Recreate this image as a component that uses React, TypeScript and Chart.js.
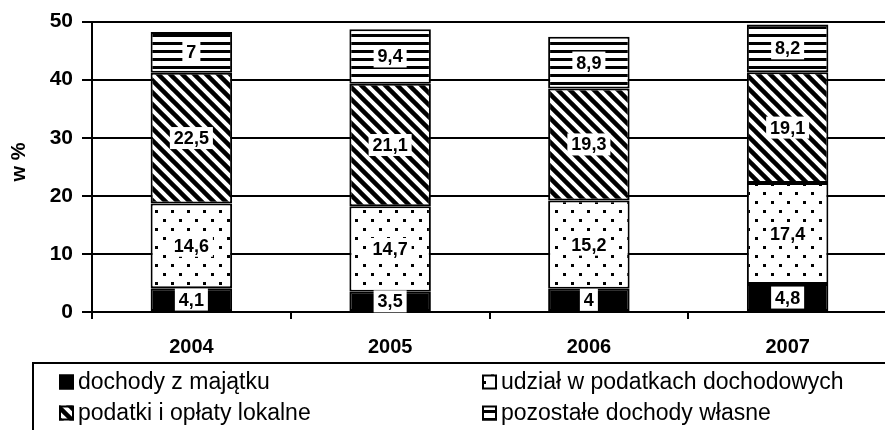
import React, { useEffect, useRef } from "react";
import { Chart, registerables } from "chart.js";

Chart.register(...registerables);

const years = ["2004", "2005", "2006", "2007"];
const dochodyZMajatku = [4.1, 3.5, 4.0, 4.8];
const udzialWPodatkach = [14.6, 14.7, 15.2, 17.4];
const podatkiIOplaty = [22.5, 21.1, 19.3, 19.1];
const pozostaleDochody = [7, 9.4, 8.9, 8.2];
const seriesNames = [
  "dochody z majątku",
  "udział w podatkach dochodowych",
  "podatki i opłaty lokalne",
  "pozostałe dochody własne",
];
const yTicks = [0, 10, 20, 30, 40, 50];
const yTitle = "w %";

const FONT = "'Liberation Sans', Arial, sans-serif";

function makePattern(
  w: number,
  h: number,
  draw: (c: CanvasRenderingContext2D) => void
): CanvasPattern | string {
  const c = document.createElement("canvas");
  c.width = w;
  c.height = h;
  const x = c.getContext("2d")!;
  x.fillStyle = "#fff";
  x.fillRect(0, 0, w, h);
  x.fillStyle = "#000";
  x.strokeStyle = "#000";
  draw(x);
  const p = x.createPattern(c, "repeat");
  return p || "#fff";
}

const fmt = (v: number) => String(v).replace(".", ",");

export default function App() {
  const ref = useRef<HTMLCanvasElement>(null);

  useEffect(() => {
    const canvas = ref.current!;
    const dots = makePattern(16, 18, (c) => {
      c.fillRect(3, 3, 3, 3);
      c.fillRect(11, 12, 3, 3);
    });
    const diag = makePattern(12, 12, (c) => {
      c.lineWidth = 4.5;
      c.lineCap = "square";
      for (const o of [-12, 0, 12]) {
        c.beginPath();
        c.moveTo(o - 2, -2);
        c.lineTo(o + 14, 14);
        c.stroke();
      }
    });
    const horiz = makePattern(8, 8, (c) => {
      c.fillRect(0, 2, 8, 3);
    });
    const fills: any[] = ["#000", dots, diag, horiz];

    const labelPlugin = {
      id: "segLabels",
      afterDatasetsDraw(chart: any) {
        const ctx = chart.ctx as CanvasRenderingContext2D;
        ctx.save();
        ctx.font = `bold 18px ${FONT}`;
        ctx.textAlign = "center";
        ctx.textBaseline = "middle";
        chart.data.datasets.forEach((ds: any, i: number) => {
          const meta = chart.getDatasetMeta(i);
          meta.data.forEach((el: any, j: number) => {
            const { x, y, base } = el.getProps(["x", "y", "base"], true);
            const cy = (y + base) / 2;
            const t = fmt(ds.data[j]);
            const w = ctx.measureText(t).width;
            ctx.fillStyle = "#fff";
            ctx.fillRect(x - w / 2 - 4, cy - 11, w + 8, 22);
            ctx.fillStyle = "#000";
            ctx.fillText(t, x, cy + 1);
          });
        });
        ctx.restore();
      },
    };

    const decorPlugin = {
      id: "decor",
      afterDraw(chart: any) {
        const ctx = chart.ctx as CanvasRenderingContext2D;
        ctx.save();
        ctx.translate(19, 162);
        ctx.rotate(-Math.PI / 2);
        ctx.font = `bold 20px ${FONT}`;
        ctx.fillStyle = "#000";
        ctx.textAlign = "center";
        ctx.textBaseline = "middle";
        ctx.fillText(yTitle, 0, 0);
        ctx.restore();

        ctx.save();
        ctx.strokeStyle = "#000";
        ctx.lineWidth = 2;
        ctx.beginPath();
        ctx.moveTo(33, 432);
        ctx.lineTo(33, 363);
        ctx.lineTo(chart.width + 2, 363);
        ctx.stroke();

        const pos = [
          [59, 382],
          [482, 382],
          [59, 413],
          [482, 413],
        ];
        ctx.font = `23px ${FONT}`;
        ctx.textBaseline = "middle";
        ctx.textAlign = "left";
        seriesNames.forEach((name, i) => {
          const [mx, my] = pos[i];
          const s = 15;
          ctx.fillStyle = fills[i];
          ctx.fillRect(mx, my - s / 2, s, s);
          ctx.lineWidth = 2;
          ctx.strokeStyle = "#000";
          ctx.strokeRect(mx + 1, my - s / 2 + 1, s - 2, s - 2);
          ctx.fillStyle = "#000";
          ctx.fillText(name, mx + s + 4, my + 1);
        });
        ctx.restore();
      },
    };

    const seriesData = [dochodyZMajatku, udzialWPodatkach, podatkiIOplaty, pozostaleDochody];

    const chart = new Chart(canvas, {
      type: "bar",
      data: {
        labels: years,
        datasets: seriesData.map((d, i) => ({
          label: seriesNames[i],
          data: d,
          backgroundColor: fills[i],
          borderColor: "#000",
          borderWidth: 2,
          borderSkipped: false,
          barPercentage: 0.41,
          categoryPercentage: 1,
        })),
      },
      options: {
        animation: false,
        responsive: false,
        devicePixelRatio: 1,
        layout: { padding: { top: 20, right: 3, left: 0, bottom: 0 } },
        plugins: {
          legend: { display: false },
          tooltip: { enabled: false },
          title: { display: false },
        },
        scales: {
          x: {
            stacked: true,
            afterFit: (s: any) => {
              s.height = 118;
            },
            grid: {
              display: true,
              drawOnChartArea: false,
              drawTicks: true,
              tickLength: 7,
              offset: true,
              color: "#000",
              lineWidth: 2,
            },
            border: { display: true, color: "#000", width: 2 },
            ticks: {
              color: "#000",
              font: { family: FONT, size: 20, weight: "bold" },
              padding: 16,
              maxRotation: 0,
              autoSkip: false,
            },
          },
          y: {
            stacked: true,
            min: 0,
            max: 50,
            afterFit: (s: any) => {
              s.width = 92;
            },
            afterBuildTicks: (s: any) => {
              s.ticks = yTicks.map((v) => ({ value: v }));
            },
            grid: {
              color: "#000",
              lineWidth: 2,
              tickLength: 10,
              drawTicks: true,
            },
            border: { display: true, color: "#000", width: 2 },
            ticks: {
              color: "#000",
              font: { family: FONT, size: 21, weight: "bold" },
              padding: 9,
            },
          },
        },
      },
      plugins: [labelPlugin, decorPlugin],
    } as any);

    return () => chart.destroy();
  }, []);

  return (
    <div
      style={{
        position: "fixed",
        left: 0,
        top: 0,
        width: 885,
        height: 430,
        overflow: "hidden",
        background: "#fff",
      }}
    >
      <canvas ref={ref} width={890} height={430} style={{ display: "block" }} />
    </div>
  );
}
